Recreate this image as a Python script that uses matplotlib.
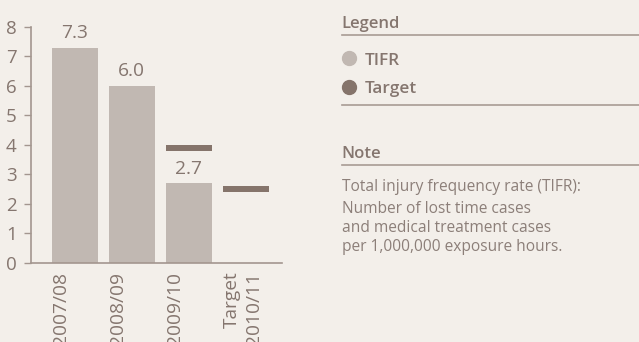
import matplotlib
matplotlib.use("Agg")
import matplotlib.pyplot as plt
from matplotlib.lines import Line2D
from matplotlib.transforms import blended_transform_factory, offset_copy

# ---- data ----
categories = ["2007/08", "2008/09", "2009/10", "Target\n2010/11"]
tifr_values = [7.3, 6.0, 2.7, None]
target_values = [None, None, 3.9, 2.5]
y_ticks = [0, 1, 2, 3, 4, 5, 6, 7, 8]
value_labels = ["7.3", "6.0", "2.7", None]

legend_items = ["TIFR", "Target"]
note_title = "Note"
note_lines = [
    "Total injury frequency rate (TIFR):",
    "Number of lost time cases",
    "and medical treatment cases",
    "per 1,000,000 exposure hours.",
]

# ---- style ----
BG = "#F3EFEA"
BAR = "#C1B8B2"
TARGET = "#85746B"
TEXT = "#85766F"
AXIS = "#A3968F"
RULE = "#A89B94"
FONT = "Open Sans"

W, H, DPI = 639, 342, 100
fig = plt.figure(figsize=(W / DPI, H / DPI), dpi=DPI, facecolor=BG)
plt.rcParams["font.family"] = [FONT, "DejaVu Sans"]


def fx(px):
    return px / W


def fy(py):
    return 1 - py / H


# chart area
left, right, top, bottom = 30.7, 282.0, 27.0, 262.7
ax = fig.add_axes([fx(left), fy(bottom), fx(right - left), (bottom - top) / H])
ax.set_facecolor(BG)

bar_w = 0.8
for i, v in enumerate(tifr_values):
    if v is not None:
        ax.bar(i, v, width=bar_w, color=BAR, zorder=2)
        ax.annotate(value_labels[i], (i, v), xytext=(0, 4), textcoords="offset points",
                    ha="center", va="bottom", fontsize=13.8, color=TEXT)

# target markers: thick horizontal strokes centred on the target value
thick = 0.22
for i, v in enumerate(target_values):
    if v is not None:
        ax.bar(i, thick, bottom=v - thick / 2, width=bar_w, color=TARGET, zorder=3)

ax.set_xlim(-0.774, 3.635)
ax.set_ylim(0, 8)
ax.set_yticks(y_ticks)
ax.set_yticklabels([str(t) for t in y_ticks])
ax.tick_params(axis="y", direction="out", length=5, width=1, color=AXIS,
               labelcolor=TEXT, labelsize=13.5, pad=5)
ax.set_xticks([])
for s in ("top", "right"):
    ax.spines[s].set_visible(False)
for s in ("left", "bottom"):
    ax.spines[s].set_color(AXIS)
    ax.spines[s].set_linewidth(1.2)

# category labels, rotated and aligned to each bar's left edge
trans = blended_transform_factory(ax.transData, ax.transAxes)
trans = offset_copy(trans, fig=fig, x=0, y=-9, units="dots")
for i, lab in enumerate(categories):
    ax.text(i - bar_w / 2, 0, lab, transform=trans, rotation=90,
            ha="left", va="top", multialignment="right",
            fontsize=13.8, color=TEXT, linespacing=1.25, clip_on=False)

# ---- legend / note panel ----
px0 = 341.7


def rule(py):
    fig.add_artist(Line2D([fx(px0), 1.0], [fy(py), fy(py)], transform=fig.transFigure,
                          color=RULE, lw=1.2))


fig.text(fx(px0), fy(28.3), "Legend", fontsize=12, fontweight="semibold",
         color=TEXT, va="baseline", ha="left")
rule(35)

marker_colors = [BAR, TARGET]
for lab, col, yc, yb in zip(legend_items, marker_colors, [58, 87], [65, 93.3]):
    fig.add_artist(Line2D([fx(349)], [fy(yc)], transform=fig.transFigure, marker="o",
                          markersize=10, markerfacecolor=col, markeredgecolor=col,
                          linestyle="none"))
    fig.text(fx(365), fy(yb), lab, fontsize=12.4, fontweight="semibold",
             color=TEXT, va="baseline", ha="left")
rule(105)

fig.text(fx(px0), fy(158.3), note_title, fontsize=12, fontweight="semibold",
         color=TEXT, va="baseline", ha="left")
rule(165)

for line, yb in zip(note_lines, [190.7, 213.3, 231.7, 250.7]):
    fig.text(fx(px0), fy(yb), line, fontsize=11.2, color="#8C7F79",
             va="baseline", ha="left")

fig.savefig("out.png", dpi=DPI, facecolor=BG)
